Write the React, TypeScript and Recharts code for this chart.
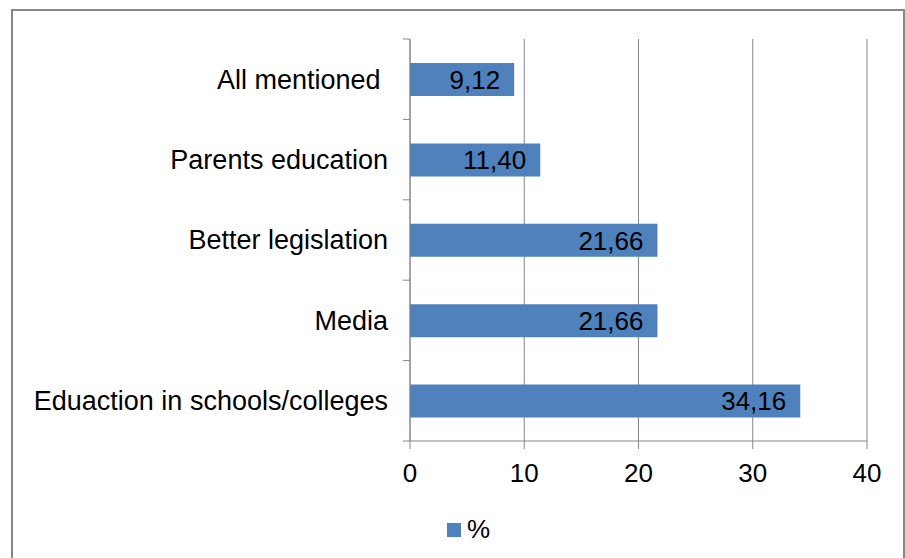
import React from "react";
import {
  BarChart,
  Bar,
  XAxis,
  YAxis,
  CartesianGrid,
  LabelList,
} from "recharts";

// Survey answers, top to bottom as drawn
const categories = [
  "All mentioned\u00a0",
  "Parents education",
  "Better legislation",
  "Media",
  "Eduaction in schools/colleges",
];
const percentValues = [9.12, 11.4, 21.66, 21.66, 34.16];
const xTicks = [0, 10, 20, 30, 40];
const seriesName = "%";

const BAR_COLOR = "#4F81BD";
const LINE_COLOR = "#868686";
const FONT = "'Liberation Sans', Arial, sans-serif";
const FONT_SIZE = 26;

const data = categories.map((name, i) => ({ name, value: percentValues[i] }));

// Excel-style category tick: marks sit on band boundaries, not centres
function CategoryTick(props: any) {
  const { x, y, payload, index } = props;
  const half = payload && payload.offset ? payload.offset : 40;
  const axisX = x + 22;
  return (
    <g>
      <line x1={axisX - 7} x2={axisX} y1={y - half} y2={y - half} stroke={LINE_COLOR} />
      {index === categories.length - 1 && (
        <line x1={axisX - 7} x2={axisX} y1={y + half} y2={y + half} stroke={LINE_COLOR} />
      )}
      <text
        x={x}
        y={y}
        dy="0.35em"
        textAnchor="end"
        fill="#000"
        fontSize={27}
        fontFamily={FONT}
      >
        {payload.value}
      </text>
    </g>
  );
}

const formatLabel = (v: any) => Number(v).toFixed(2).replace(".", ",");

export default function App() {
  return (
    <div
      style={{
        position: "absolute",
        left: 0,
        top: 0,
        width: 905,
        height: 558,
        overflow: "hidden",
        background: "#fff",
        fontFamily: FONT,
      }}
    >
      <div
        style={{
          position: "absolute",
          left: 11,
          top: 9,
          width: 890,
          height: 570,
          border: `2px solid ${LINE_COLOR}`,
        }}
      />
      <div style={{ position: "absolute", left: 0, top: 0 }}>
        <BarChart
          width={905}
          height={558}
          data={data}
          layout="vertical"
          margin={{ top: 39, right: 38, bottom: 57, left: 0 }}
          barSize={33}
        >
          <CartesianGrid horizontal={false} stroke={LINE_COLOR} strokeWidth={1} />
          <XAxis
            type="number"
            domain={[0, 40]}
            ticks={xTicks}
            interval={0}
            height={60}
            tickSize={8}
            tickMargin={15}
            axisLine={{ stroke: LINE_COLOR }}
            tickLine={{ stroke: LINE_COLOR }}
            tick={{ fill: "#000", fontSize: FONT_SIZE, fontFamily: FONT }}
          />
          <YAxis
            type="category"
            dataKey="name"
            width={410}
            interval={0}
            tickLine={false}
            tickSize={0}
            tickMargin={22}
            axisLine={{ stroke: LINE_COLOR }}
            tick={<CategoryTick />}
          />
          <Bar dataKey="value" name={seriesName} fill={BAR_COLOR} isAnimationActive={false}>
            <LabelList
              dataKey="value"
              position="insideRight"
              offset={14}
              formatter={formatLabel}
              fill="#000"
              fontSize={FONT_SIZE}
              fontFamily={FONT}
            />
          </Bar>
        </BarChart>
      </div>
      <div
        style={{
          position: "absolute",
          left: 447,
          top: 514,
          display: "flex",
          alignItems: "center",
          fontSize: FONT_SIZE,
          color: "#000",
        }}
      >
        <span
          style={{
            display: "inline-block",
            width: 14,
            height: 14,
            background: BAR_COLOR,
            marginRight: 6,
          }}
        />
        <span>{seriesName}</span>
      </div>
    </div>
  );
}
